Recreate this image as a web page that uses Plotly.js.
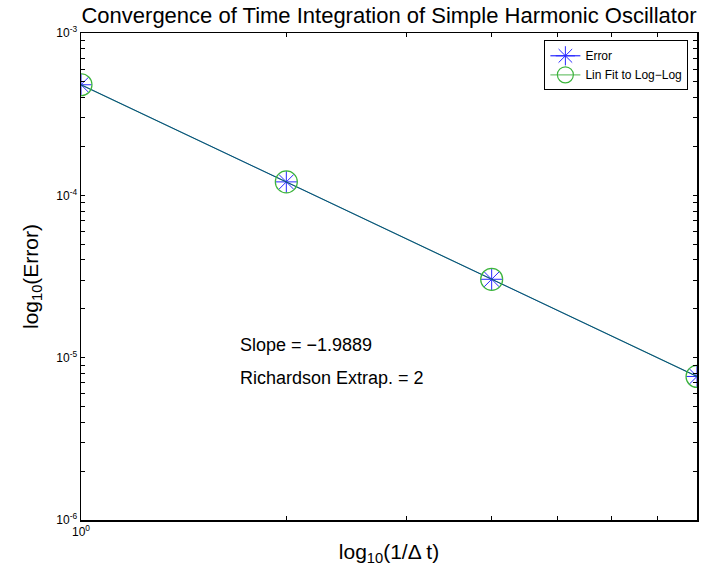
<!DOCTYPE html>
<html>
<head>
<meta charset="utf-8">
<script src="https://cdn.plot.ly/plotly-3.0.1.min.js"></script>
<style>html,body{margin:0;padding:0;background:#fff;}#chart{width:703px;height:569px;}</style>
</head>
<body>
<div id="chart"></div>
<script>
// Data
var invDt = [1, 2, 4, 8];
var errorVals = [4.8e-4, 1.21e-4, 3.04e-5, 7.66e-6];
var fitVals = [4.8e-4, 1.21e-4, 3.04e-5, 7.66e-6];
var slopeText = 'Slope = \u22121.9889';
var richText = 'Richardson Extrap. = 2';

// tick setup
var yTickVals = [], yTickText = [];
for (var e = -6; e <= -3; e++) {
  for (var m = 1; m <= 9; m++) {
    var v = m * Math.pow(10, e);
    if (e === -3 && m > 1) break;
    yTickVals.push(v);
    yTickText.push(m === 1 ? '10<sup>' + e + '</sup>' : '');
  }
}
var xTickVals = [1, 2, 3, 4, 5, 6, 7, 8];
var xTickText = xTickVals.map(function (v) { return v === 1 ? '10<sup>0</sup>' : ''; });

var font = 'Liberation Sans, Arial, Helvetica, sans-serif';

var traces = [
  {
    x: invDt, y: errorVals, name: 'Error', type: 'scatter', mode: 'lines+markers',
    line: {color: 'rgb(0,0,255)', width: 1},
    marker: {symbol: 'asterisk-open', size: 18, color: 'rgb(40,40,255)', line: {color: 'rgb(40,40,255)', width: 1}}
  },
  {
    x: invDt, y: fitVals, name: 'Lin Fit to Log\u2212Log', type: 'scatter', mode: 'lines+markers',
    line: {color: 'rgba(0,150,0,0.55)', width: 1.2},
    marker: {symbol: 'circle-open', size: 22, color: 'rgb(60,180,60)', line: {color: 'rgb(60,180,60)', width: 1.2}}
  }
];

var layout = {
  width: 703, height: 569,
  margin: {l: 81, r: 6, t: 33, b: 49},
  paper_bgcolor: '#fff', plot_bgcolor: '#fff',
  font: {family: font, color: '#000'},
  showlegend: true,
  title: {text: 'Convergence of Time Integration of Simple Harmonic Oscillator', xref: 'paper', x: 0.5, xanchor: 'center', y: 0.973, yanchor: 'middle', font: {size: 22, family: font, color: '#000'}},
  xaxis: {
    type: 'log', range: [0, Math.log10(8)],
    tickmode: 'array', tickvals: xTickVals, ticktext: xTickText,
    ticks: 'inside', ticklen: 4, tickcolor: '#000', tickwidth: 1,
    showline: true, linecolor: '#000', linewidth: 1.5, mirror: 'allticks',
    showgrid: false, zeroline: false,
    tickfont: {size: 12, family: font},
    title: {text: 'log<sub>10</sub>(1/\u0394 t)', font: {size: 21, family: font}, standoff: 6}
  },
  yaxis: {
    type: 'log', range: [-6, -3],
    tickmode: 'array', tickvals: yTickVals, ticktext: yTickText,
    ticks: 'inside', ticklen: 4, tickcolor: '#000', tickwidth: 1,
    showline: true, linecolor: '#000', linewidth: 1.5, mirror: 'allticks',
    showgrid: false, zeroline: false,
    tickfont: {size: 12, family: font},
    title: {text: 'log<sub>10</sub>(Error)', font: {size: 21, family: font}, standoff: 12}
  },
  legend: {
    x: 0.986, y: 0.985, xanchor: 'right', yanchor: 'top',
    bgcolor: '#fff', bordercolor: '#000', borderwidth: 1,
    font: {size: 12, family: font}, tracegroupgap: 0, itemwidth: 30
  },
  annotations: [
    {xref: 'paper', yref: 'paper', x: 0.255, y: 0.359, xanchor: 'left', yanchor: 'middle', showarrow: false, text: slopeText, font: {size: 18, family: font}},
    {xref: 'paper', yref: 'paper', x: 0.255, y: 0.292, xanchor: 'left', yanchor: 'middle', showarrow: false, text: richText, font: {size: 18, family: font}}
  ]
};

Plotly.newPlot('chart', traces, layout, {displayModeBar: false, staticPlot: true});
</script>
</body>
</html>
